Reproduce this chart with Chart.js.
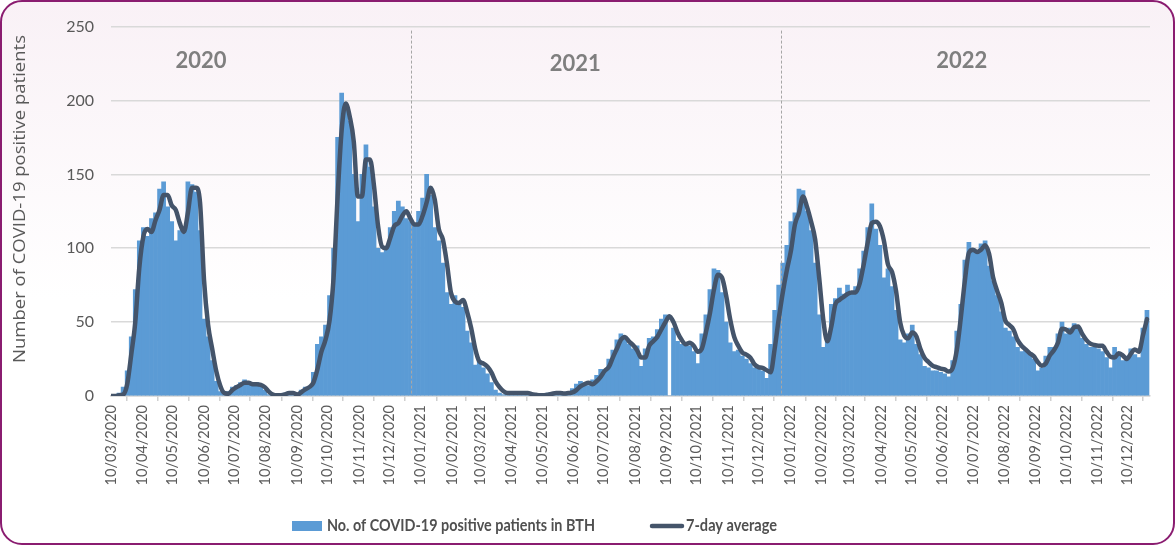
<!DOCTYPE html>
<html>
<head>
<meta charset="utf-8">
<script src="https://cdn.jsdelivr.net/npm/chart.js@4.4.1/dist/chart.umd.min.js"></script>
<style>
  html, body { margin: 0; padding: 0; background: #fff; }
  #wrap { position: relative; width: 1175px; height: 545px; }
  #frame { position: absolute; left: 0; top: 0; width: 1175px; height: 545px; box-sizing: border-box;
           border: 2px solid #8a1c70; border-radius: 22px;
           background: linear-gradient(to bottom, #f9f1f6 0%, #ffffff 55%); }
  canvas { position: absolute; left: 0; top: 0; }
</style>
</head>
<body>
<div id="wrap">
  <div id="frame"></div>
  <canvas id="covid-chart" width="1175" height="545"></canvas>
</div>
<script>
// Datas (one value every 4 days, starting 10/03/2020)
const firstDay = '10/03/2020';
const stepDays = 4;

const tickLabels = [
  '10/03/2020', '10/04/2020', '10/05/2020', '10/06/2020', '10/07/2020', '10/08/2020', '10/09/2020', '10/10/2020', '10/11/2020', '10/12/2020',
  '10/01/2021', '10/02/2021', '10/03/2021', '10/04/2021', '10/05/2021', '10/06/2021', '10/07/2021', '10/08/2021', '10/09/2021', '10/10/2021', '10/11/2021', '10/12/2021',
  '10/01/2022', '10/02/2022', '10/03/2022', '10/04/2022', '10/05/2022', '10/06/2022', '10/07/2022', '10/08/2022', '10/09/2022', '10/10/2022', '10/11/2022', '10/12/2022'
];

const yearLabels = ['2020', '2021', '2022'];
const yearStarts = ['01/01/2021', '01/01/2022'];

const seriesNames = ['No. of COVID-19 positive patients in BTH', '7-day average'];
const yTitle = 'Number of COVID-19 positive patients';

const dailyPatients = [
  0, 1, 2, 6, 17, 40, 72, 105, 114, 108,
  120, 124, 140, 145, 128, 118, 105, 112, 110, 145,
  143, 138, 112, 52, 40, 24, 10, 3, 1, 3,
  6, 7, 9, 11, 10, 7, 9, 6, 4, 1,
  0, 1, 0, 2, 3, 1, 0, 4, 6, 5,
  16, 35, 40, 48, 68, 100, 175, 205, 193, 186,
  150, 118, 150, 170, 155, 128, 100, 97, 99, 114,
  125, 132, 128, 120, 118, 115, 125, 134, 150, 136,
  114, 105, 90, 70, 62, 68, 62, 60, 44, 36,
  21, 24, 19, 15, 9, 4, 2, 1, 3, 2,
  1, 3, 2, 1, 0, 1, 0, 1, 2, 2,
  1, 3, 2, 3, 5, 8, 10, 9, 7, 11,
  14, 18, 17, 25, 31, 38, 42, 40, 35, 32,
  34, 20, 32, 39, 40, 45, 52, 55, 0, 46,
  37, 35, 36, 34, 30, 22, 42, 55, 72, 86,
  85, 70, 50, 36, 30, 31, 27, 25, 22, 19,
  18, 17, 12, 35, 58, 75, 90, 102, 118, 124,
  140, 139, 125, 112, 90, 55, 33, 38, 62, 66,
  73, 69, 75, 70, 74, 86, 98, 114, 130, 113,
  102, 80, 86, 74, 58, 38, 36, 42, 48, 35,
  28, 20, 19, 17, 17, 16, 15, 13, 24, 44,
  62, 92, 104, 100, 98, 103, 105, 88, 78, 68,
  57, 46, 44, 40, 33, 30, 31, 28, 25, 17,
  19, 27, 33, 33, 42, 50, 42, 46, 49, 46,
  39, 35, 33, 33, 32, 30, 26, 19, 33, 29,
  24, 27, 32, 28, 26, 46, 58
];

const weekAverage = [
  0, 0, 0.5, 1, 8, 28, 50, 87, 108, 113,
  111, 119, 126, 136, 136, 129, 126, 117, 111, 124,
  141, 141, 131, 78, 48, 32, 17, 7, 2, 1.5,
  4, 6, 7.5, 9, 9, 8, 8, 7.5, 6, 3,
  1, 0.5, 0.5, 1, 2, 2, 1, 2.5, 4.5, 6,
  9, 18, 30, 38, 51, 80, 135, 180, 198, 189,
  172, 135, 135, 160, 160, 142, 115, 101, 100, 107,
  115, 117, 122, 125, 120, 116, 116, 122, 131, 141,
  133, 113, 106, 90, 70, 64, 63, 65, 57, 46,
  32, 23.5, 22, 20, 16, 10, 6, 3.2, 2, 2,
  2, 2, 2, 2, 1.2, 0.8, 0.5, 0.5, 0.8, 1.5,
  2, 2, 1.7, 2, 2.4, 4, 6.5, 8, 9, 8,
  10, 13, 17, 19.5, 26, 32, 38, 40, 37, 34.5,
  31, 26, 26, 34, 37, 40, 45, 50, 54, 50,
  43, 38, 35, 36, 34, 30, 32, 43, 56, 72,
  82, 80, 68, 52, 40, 34, 29.5, 28, 26, 21.5,
  19.5, 19, 17.5, 16, 32, 52, 70, 85, 98, 116,
  124, 135, 128, 118, 106, 80, 52, 37, 47, 62,
  65, 67, 69, 70, 70, 76, 89, 104, 117, 118,
  115, 105, 89, 84, 71, 50, 41, 39, 43, 40.5,
  32, 26, 23, 20.5, 19.5, 18.5, 18, 16.5, 19, 31,
  53, 78, 97, 99, 97.5, 99, 102, 96, 80, 71,
  63, 51, 48, 45, 38, 34, 31.5, 29, 27, 23,
  20.5, 22, 27.5, 31, 36, 45.5, 45, 43, 46.5, 47,
  42, 38, 35.5, 34.5, 34, 34, 30, 26.5, 26, 29,
  27.5, 25, 28.5, 31.5, 30, 41, 52
];

// day number counted from the first day
function dayOf(s) {
  const p = s.split('/').map(Number);
  const f = firstDay.split('/').map(Number);
  return (Date.UTC(p[2], p[1] - 1, p[0]) - Date.UTC(f[2], f[1] - 1, f[0])) / 86400000;
}
const tickDays = tickLabels.map(dayOf);

//Config
Chart.defaults.font.family = 'Lato';

// text squeezed/stretched to a given length
function fitText(ctx, t, x0, y0, w, rot) {
  const m = ctx.measureText(t).width;
  ctx.save();
  ctx.translate(x0, y0);
  if (rot) ctx.rotate(rot);
  ctx.scale(w / m, 1);
  ctx.fillText(t, 0, 0);
  ctx.restore();
}

const decor = {
  id: 'decor',
  afterDatasetDraw(chart, args) {
    if (args.meta.type !== 'bar') return;
    const { ctx, chartArea, scales: { x } } = chart;
    ctx.save();
    ctx.strokeStyle = '#a6a6a6';
    ctx.lineWidth = 1;
    ctx.setLineDash([3, 2]);
    yearStarts.forEach(s => {
      const px = Math.round(x.getPixelForValue(dayOf(s))) + 0.5;
      ctx.beginPath();
      ctx.moveTo(px, chartArea.top + 4);
      ctx.lineTo(px, chartArea.bottom);
      ctx.stroke();
    });
    ctx.restore();
  },
  afterDraw(chart) {
    const { ctx, scales: { x, y } } = chart;
    ctx.save();
    // year names
    const spots = [[89, 226.5], [459, 224.5], [841, 227]];
    ctx.font = 'bold 22px Lato';
    ctx.fillStyle = '#7f7f7f';
    ctx.textAlign = 'center';
    ctx.textBaseline = 'middle';
    yearLabels.forEach((t, i) => {
      ctx.fillText(t, x.getPixelForValue(spots[i][0]), y.getPixelForValue(spots[i][1]));
    });
    // y axis title
    ctx.font = '17px "Open Sans"';
    ctx.fillStyle = '#595959';
    ctx.textAlign = 'left';
    fitText(ctx, yTitle, 20, 363, 328, -Math.PI / 2);
    // legend
    const ds = chart.data.datasets;
    const yMid = 526;
    ctx.fillStyle = ds[0].backgroundColor;
    ctx.fillRect(292, yMid - 5, 30, 10);
    ctx.font = 'bold 17px Lato';
    ctx.fillStyle = '#505050';
    fitText(ctx, seriesNames[0], 327, yMid, 268);
    ctx.strokeStyle = ds[1].borderColor;
    ctx.lineWidth = 4.5;
    ctx.lineCap = 'round';
    ctx.beginPath();
    ctx.moveTo(652, yMid);
    ctx.lineTo(682, yMid);
    ctx.stroke();
    fitText(ctx, seriesNames[1], 686, yMid, 91);
    ctx.restore();
  }
};

const data = {
  datasets: [{
    type: 'bar',
    label: seriesNames[0],
    data: dailyPatients.map((v, i) => ({ x: i * stepDays, y: v })),
    backgroundColor: '#5B9BD5',
    borderWidth: 0,
    barPercentage: 1,
    categoryPercentage: 1,
    order: 2
  }, {
    type: 'line',
    label: seriesNames[1],
    data: weekAverage.map((v, i) => ({ x: i * stepDays, y: v })),
    borderColor: '#44546A',
    borderWidth: 4.5,
    pointRadius: 0,
    cubicInterpolationMode: 'monotone',
    borderJoinStyle: 'round',
    borderCapStyle: 'round',
    order: 1
  }]
};

const options = {
  responsive: false,
  animation: false,
  events: [],
  layout: { padding: { left: 0, right: 25, top: 24, bottom: 0 } },
  scales: {
    x: {
      type: 'linear',
      min: 0,
      max: 1027,
      offset: false,
      afterBuildTicks: s => { s.ticks = tickDays.map(v => ({ value: v })); },
      afterFit: s => { s.height = 149; },
      grid: { drawOnChartArea: false, drawTicks: true, tickLength: 5, color: '#d0d0d0', lineWidth: 1.5 },
      border: { color: '#d0d0d0', width: 1.5 },
      ticks: {
        autoSkip: false,
        minRotation: 90,
        maxRotation: 90,
        padding: 4,
        color: '#595959',
        font: { size: 14.5 },
        callback: (v, i) => tickLabels[i]
      }
    },
    y: {
      min: 0,
      max: 250,
      afterFit: s => { s.width = 111; },
      grid: { color: '#d9d9d9', lineWidth: 1.5, drawTicks: false },
      border: { display: false },
      ticks: { stepSize: 50, padding: 17, color: '#595959', font: { size: 16 } }
    }
  },
  plugins: {
    legend: { display: false },
    tooltip: { enabled: false }
  }
};

// Initialisation
const ctx = document.getElementById('covid-chart').getContext('2d');
const covidChart = new Chart(ctx, {
  type: 'bar',
  data: data,
  options: options,
  plugins: [decor]
});
</script>
</body>
</html>
